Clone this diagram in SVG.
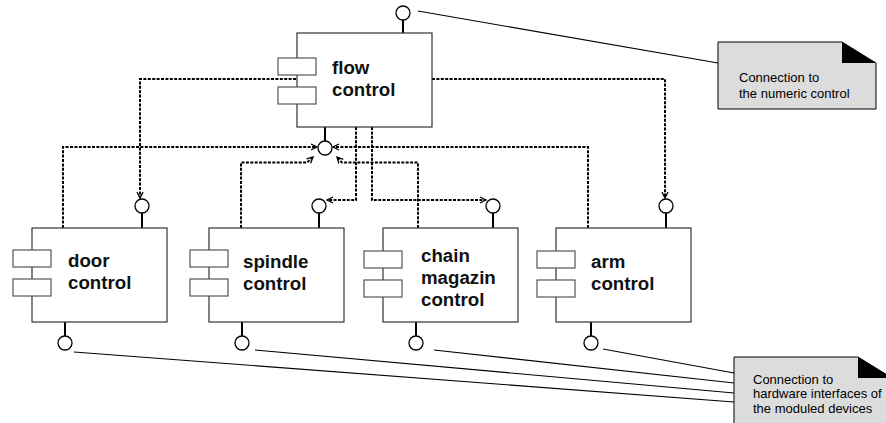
<svg xmlns="http://www.w3.org/2000/svg" width="886" height="423" viewBox="0 0 886 423">
<style>
.box{fill:#fff;stroke:#333;stroke-width:1.2}
.port{fill:#fff;stroke:#555;stroke-width:1.2}
.lbl{font-family:"Liberation Sans",Arial,sans-serif;font-weight:bold;font-size:18.7px;fill:#111}
.iface{fill:#fff;stroke:#000;stroke-width:1.3}
.stem{stroke:#000;stroke-width:2}
.dep{fill:none;stroke:#000;stroke-width:2;stroke-dasharray:3 1.4;marker-end:url(#arr)}
.nline{fill:none;stroke:#000;stroke-width:1.1}
.note{fill:#dcdcdc;stroke:#000;stroke-width:1}
.ntxt{font-family:"Liberation Sans",Arial,sans-serif;font-size:13px;fill:#000}
</style>
<defs>
<marker id="arr" markerUnits="userSpaceOnUse" markerWidth="10" markerHeight="10" refX="7" refY="4" orient="auto">
<path d="M1,1 L7,4 L1,7" fill="none" stroke="#000" stroke-width="1.3" stroke-dasharray="none"/>
</marker>
</defs>
<rect width="886" height="423" fill="#fff"/>

<g id="connectors">
<path class="dep" d="M296,79 H140 V198"/>
<path class="dep" d="M432,79 H665 V198"/>
<path class="dep" d="M63,228 V147 H317"/>
<path class="dep" d="M588,228 V147 H333"/>
<path class="dep" d="M241,228 V162.5 H307 L313,157"/>
<path class="dep" d="M418,228 V162.5 H342 L337,157"/>
<path class="dep" d="M356,127 V200 H327"/>
<path class="dep" d="M372,127 V200 H486"/>
<line class="nline" x1="418" y1="11" x2="718" y2="63"/>
<line class="nline" x1="74" y1="352" x2="734" y2="402"/>
<line class="nline" x1="255" y1="350" x2="734" y2="393"/>
<line class="nline" x1="434" y1="350" x2="734" y2="383"/>
<line class="nline" x1="603" y1="349" x2="734" y2="373"/>
</g>

<g id="flow">
<line class="stem" x1="403" y1="20" x2="403" y2="33"/>
<circle class="iface" cx="403" cy="13" r="7"/>
<line class="stem" x1="325" y1="127" x2="325" y2="141"/>
<circle class="iface" cx="325" cy="148" r="7"/>
<rect class="box" x="297" y="33" width="135" height="94"/>
<rect class="port" x="278" y="58" width="38" height="17"/>
<rect class="port" x="278" y="87" width="38" height="17"/>
<text class="lbl" x="332" y="74">flow</text>
<text class="lbl" x="332" y="96">control</text>
</g>

<g id="door">
<line class="stem" x1="142" y1="213" x2="142" y2="228"/>
<circle class="iface" cx="142" cy="206" r="7"/>
<line class="stem" x1="65" y1="322" x2="65" y2="336"/>
<circle class="iface" cx="65" cy="343" r="7"/>
<rect class="box" x="32" y="228" width="135" height="94"/>
<rect class="port" x="13" y="250" width="38" height="17"/>
<rect class="port" x="13" y="279" width="38" height="17"/>
<text class="lbl" x="68" y="267">door</text>
<text class="lbl" x="68" y="289">control</text>
</g>

<g id="spindle">
<line class="stem" x1="319" y1="213" x2="319" y2="228"/>
<circle class="iface" cx="319" cy="206" r="7"/>
<line class="stem" x1="242" y1="322" x2="242" y2="336"/>
<circle class="iface" cx="242" cy="343" r="7"/>
<rect class="box" x="209" y="228" width="135" height="94"/>
<rect class="port" x="190" y="250" width="38" height="17"/>
<rect class="port" x="190" y="279" width="38" height="17"/>
<text class="lbl" x="243" y="268">spindle</text>
<text class="lbl" x="243" y="290">control</text>
</g>

<g id="chain">
<line class="stem" x1="493" y1="213" x2="493" y2="228"/>
<circle class="iface" cx="493" cy="206" r="7"/>
<line class="stem" x1="416" y1="322" x2="416" y2="336"/>
<circle class="iface" cx="416" cy="343" r="7"/>
<rect class="box" x="383" y="228" width="135" height="94"/>
<rect class="port" x="364" y="251" width="38" height="17"/>
<rect class="port" x="364" y="280" width="38" height="17"/>
<text class="lbl" x="421" y="262">chain</text>
<text class="lbl" x="421" y="284">magazin</text>
<text class="lbl" x="421" y="306">control</text>
</g>

<g id="arm">
<line class="stem" x1="666" y1="213" x2="666" y2="228"/>
<circle class="iface" cx="666" cy="206" r="7"/>
<line class="stem" x1="591" y1="322" x2="591" y2="336"/>
<circle class="iface" cx="591" cy="343" r="7"/>
<rect class="box" x="556" y="228" width="135" height="94"/>
<rect class="port" x="537" y="251" width="38" height="17"/>
<rect class="port" x="537" y="280" width="38" height="17"/>
<text class="lbl" x="591" y="268">arm</text>
<text class="lbl" x="591" y="290">control</text>
</g>

<g id="note-nc">
<path class="note" d="M718,42 H842 L876,63 V109 H718 Z"/>
<path d="M842,42 L876,63 H842 Z" fill="#000"/>
<text class="ntxt" x="739" y="82">Connection to</text>
<text class="ntxt" x="739" y="98">the numeric control</text>
</g>

<g id="note-hw">
<path class="note" d="M734,357 H858 L892,378 V430 H734 Z"/>
<path d="M858,357 L892,378 H858 Z" fill="#000"/>
<text class="ntxt" x="753" y="384">Connection to</text>
<text class="ntxt" x="753" y="398">hardware interfaces of</text>
<text class="ntxt" x="753" y="413">the moduled devices</text>
</g>
</svg>
